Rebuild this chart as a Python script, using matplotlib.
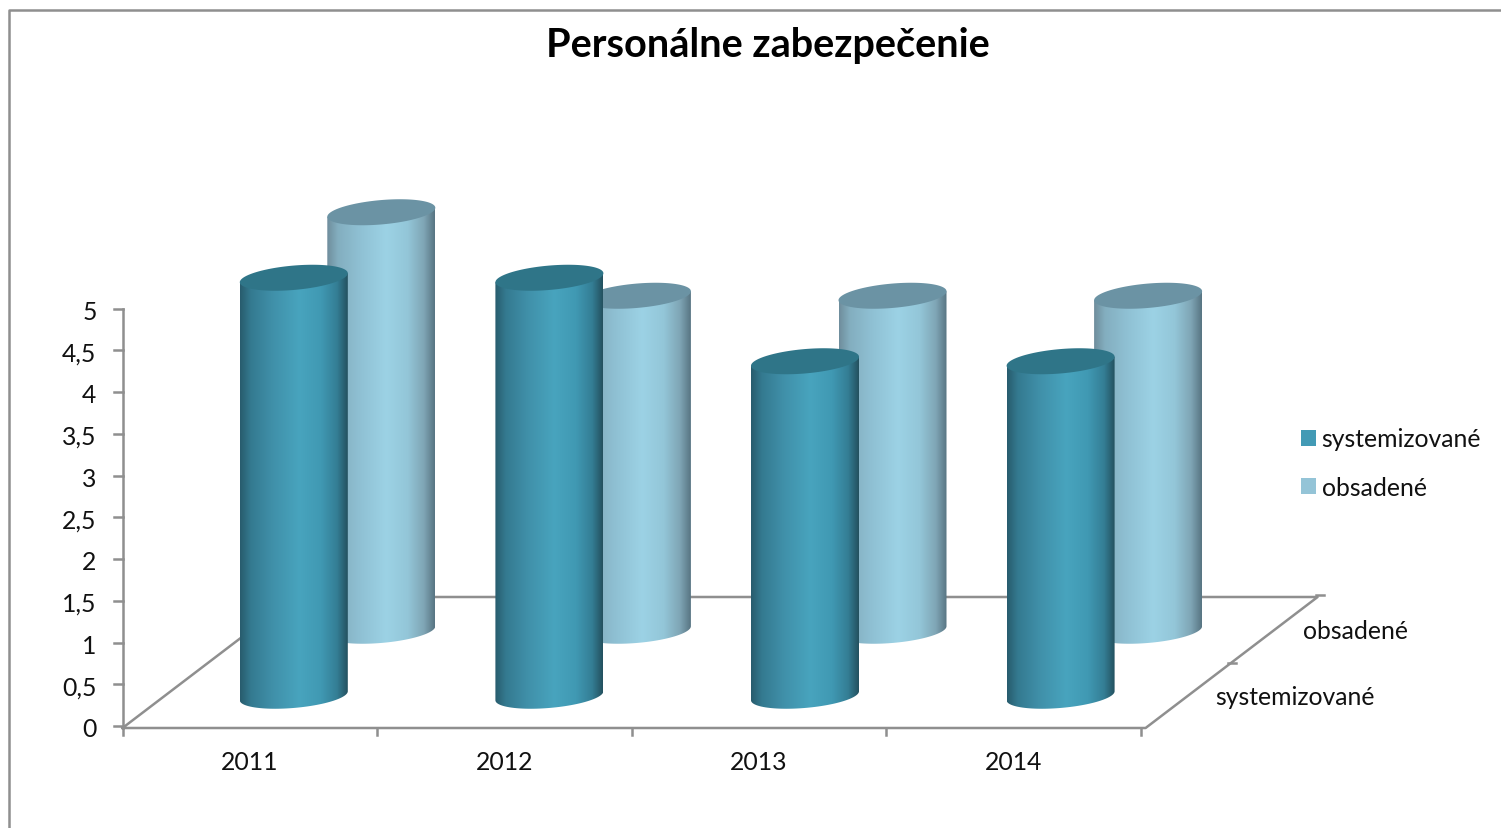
import numpy as np
import matplotlib
matplotlib.use("Agg")
import matplotlib.pyplot as plt
from matplotlib.colors import LinearSegmentedColormap
from matplotlib.patches import Patch, Polygon

plt.rcParams["font.family"] = ["Lato", "DejaVu Sans"]

# data
years = ["2011", "2012", "2013", "2014"]
series_names = ["systemizované", "obsadené"]
systemizovane = [5, 5, 4, 4]
obsadene = [5, 4, 4, 4]
y_ticks = [0, 0.5, 1, 1.5, 2, 2.5, 3, 3.5, 4, 4.5, 5]

GRAY = "#8f8f8f"
TEXT = "#111111"
fs = 17.8
LW = 1.8

# 3d look: category + depth + value go to picture position
X0, Y0 = 122.5, 729
CAT_W = 254.5
BAR_PITCH = 255.6
DEPTH_X, DEPTH_Y = 172, 131
UNIT = 83.5
RX, RY, SKEW = 54, 12.2, 4.5

def project(cat, depth, val=0):
    return X0 + CAT_W * cat + DEPTH_X * depth, Y0 - DEPTH_Y * depth - UNIT * val

def ellipse_pts(cx, cy, t):
    return cx + RX * np.cos(t), cy - SKEW * np.cos(t) + RY * np.sin(t)

def cylinder(ax, cat, depth, val, colors, top_color, z):
    cx, cy = project(cat, depth)
    tx, ty = project(cat, depth, val)
    # bars sit a little wider apart than the axis ticks
    shift = (BAR_PITCH - CAT_W) * cat + 0.5 + (1.5 if depth > 0.5 else 0)
    cx, tx = cx + shift, tx + shift
    cy = cy + (1 if depth > 0.5 else 0.5)
    t = np.linspace(0, np.pi, 60)
    bx, by = ellipse_pts(cx, cy, t)
    xs = np.r_[tx + RX, bx, tx - RX]
    ys = np.r_[ty - SKEW, by, ty + SKEW]
    body = Polygon(np.c_[xs, ys], closed=True, fc="none", ec="none", zorder=z)
    ax.add_patch(body)
    cmap = LinearSegmentedColormap.from_list("c", colors)
    grad = np.linspace(0, 1, 256).reshape(1, -1)
    im = ax.imshow(grad, cmap=cmap, extent=[cx - RX, cx + RX, cy + 20, ty - 20],
                   aspect="auto", zorder=z, interpolation="bilinear")
    im.set_clip_path(body)
    t = np.linspace(0, 2 * np.pi, 120)
    ex, ey = ellipse_pts(tx, ty, t)
    ax.fill(ex, ey, color=top_color, lw=0, zorder=z + 0.1)

front_colors = [(0, "#285c6d"), (0.1, "#347a90"), (0.3, "#4090a9"), (0.55, "#48a4be"),
                (0.75, "#4099b3"), (0.9, "#347e95"), (1, "#24515f")]
back_colors = [(0, "#6f8d9c"), (0.1, "#83aebf"), (0.3, "#8fc0d3"), (0.55, "#9cd2e5"),
               (0.75, "#93c6d8"), (0.9, "#7fa5b5"), (1, "#587583")]

fig = plt.figure(figsize=(15.01, 8.29), dpi=100)
ax = fig.add_axes([0, 0, 1, 1])
ax.set_xlim(0, 1501)
ax.set_ylim(829, 0)
ax.axis("off")

# chart frame, runs off the right and bottom edge
ax.plot([9, 9, 1501], [829, 11, 11], color=GRAY, lw=LW, zorder=1)

# floor
n = len(years)
end = n + 0.02
floor = [project(0, 0), project(0, 1), project(end, 1), project(end, 0), project(0, 0)]
ax.plot(*zip(*floor), color=GRAY, lw=LW, zorder=2)
bx, by = project(end, 1)
ax.plot([bx - 2, bx + 6], [by - 2, by - 2], color=GRAY, lw=LW, zorder=2)
mx, my = project(end, 0.5)
ax.plot([mx - 4, mx + 4], [my, my], color=GRAY, lw=LW, zorder=2)

# value axis
ax.plot([X0, X0], [Y0, Y0 - UNIT * 5 - 2], color=GRAY, lw=LW, zorder=2)
for v in y_ticks:
    yy = project(0, 0, v)[1] - 2
    ax.plot([X0 - 9, X0], [yy, yy], color=GRAY, lw=LW, zorder=2)
    ax.text(X0 - 26, yy + 0.8, str(v).replace(".", ","), ha="right",
            va="center_baseline", fontsize=fs, color=TEXT)

# category axis
for i in range(n + 1):
    xx = project(i, 0)[0]
    ax.plot([xx, xx], [Y0, Y0 + 7], color=GRAY, lw=LW, zorder=2)
for i, y in enumerate(years):
    ax.text(project(i + 0.5, 0)[0], 761, y, ha="center", va="center_baseline",
            fontsize=fs, color=TEXT)

# depth labels
ax.text(1355, 629.5, series_names[1], ha="center", va="center_baseline", fontsize=fs, color=TEXT)
ax.text(1295, 695.5, series_names[0], ha="center", va="center_baseline", fontsize=fs, color=TEXT)

# back row first, the front row hides part of it
for i, v in enumerate(obsadene):
    cylinder(ax, i + 0.5, 0.75, v, back_colors, "#6b93a4", 4 + i * 0.2)
for i, v in enumerate(systemizovane):
    cylinder(ax, i + 0.5, 0.25, v, front_colors, "#2f7588", 6 + i * 0.2)

ax.text(768, 42, "Personálne zabezpečenie", ha="center", va="center_baseline",
        fontsize=28.5, fontweight="bold", color="black")

handles = [Patch(fc="#429ab5", ec="none"), Patch(fc="#94c4d7", ec="none")]
leg = ax.legend(handles, series_names, loc="upper left", bbox_to_anchor=(1293.5 / 1501, 1 - 421 / 829),
                frameon=False, fontsize=fs, handlelength=0.6, handleheight=0.6,
                handletextpad=0.24, labelspacing=1.02, borderpad=0.3, borderaxespad=0,
                labelcolor=TEXT)

ax.set_xlim(0, 1501)
ax.set_ylim(829, 0)
plt.savefig("out.png", dpi=100)
